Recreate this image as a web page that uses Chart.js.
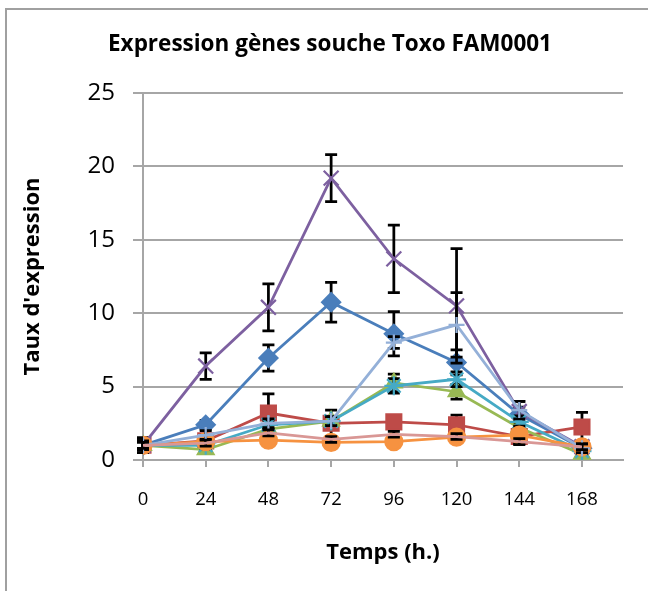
<!DOCTYPE html>
<html lang="fr">
<head>
    <meta charset="UTF-8">
    <title>Expression gènes souche Toxo FAM0001</title>
    <script src="https://cdn.jsdelivr.net/npm/chart.js"></script>
    <style>
        body {
            margin: 0;
            padding: 0;
            background-color: #fff;
        }
        .frame {
            position: absolute;
            left: 5px;
            top: 8px;
            width: 700px;
            height: 650px;
            border-left: 2px solid #a0a0a0;
            border-top: 2px solid #a0a0a0;
        }
        #chart {
            position: absolute;
            left: 0;
            top: 0;
        }
    </style>
</head>
<body>
    <div class="frame"></div>
    <canvas id="chart" width="648" height="591"></canvas>

    <script>
        // temps (h.)
        const hours = [0, 24, 48, 72, 96, 120, 144, 168];
        const yTicks = [0, 5, 10, 15, 20, 25];

        // taux d'expression + barres d'erreur, une paire par gène
        const serie1 = [1.0, 2.4, 6.95, 10.75, 8.6, 6.65, 3.1, 0.8];
        const serie1Err = [0.3, 0.3, 0.9, 1.35, 1.5, 0.85, 0.5, 0.3];
        const serie2 = [1.0, 1.3, 3.2, 2.5, 2.6, 2.4, 1.6, 2.25];
        const serie2Err = [0.5, 0.3, 1.3, 0.9, 0.4, 0.65, 0.3, 1.0];
        const serie3 = [1.0, 0.7, 2.1, 2.65, 5.25, 4.65, 2.2, 0.4];
        const serie3Err = [0.3, 0.2, 0.3, 0.3, 0.6, 0.5, 0.3, 0.2];
        const serie4 = [1.0, 6.4, 10.4, 19.2, 13.7, 10.5, 3.3, 0.9];
        const serie4Err = [0.5, 0.9, 1.6, 1.6, 2.3, 3.9, 0.7, 0.3];
        const serie5 = [1.0, 1.0, 2.4, 2.65, 5.05, 5.5, 2.6, 0.6];
        const serie5Err = [0.3, 0.3, 0.3, 0.3, 0.5, 0.5, 0.4, 0.2];
        const serie6 = [1.0, 1.25, 1.35, 1.2, 1.25, 1.55, 1.7, 0.9];
        const serie6Err = [0.3, 0.2, 0.2, 0.2, 0.2, 0.2, 0.6, 0.3];
        const serie7 = [1.0, 1.7, 2.5, 2.65, 8.0, 9.2, 3.4, 0.8];
        const serie7Err = [0.3, 0.3, 0.3, 0.3, 0.4, 2.2, 0.6, 0.3];
        const serie8 = [1.0, 1.15, 1.85, 1.4, 1.75, 1.6, 1.25, 0.9];
        const serie8Err = [0.2, 0.2, 0.2, 0.2, 0.2, 0.2, 0.2, 0.2];

        const FONT = "'Open Sans', 'DejaVu Sans', sans-serif";

        function makeSeries(label, values, errors, color, style, radius, i) {
            return {
                label: label,
                data: values.map((v, j) => ({ x: hours[j], y: v })),
                err: errors,
                borderColor: color,
                backgroundColor: color,
                borderWidth: 2.75,
                pointStyle: style,
                pointRadius: radius,
                pointBorderWidth: 2.25,
                pointBackgroundColor: color,
                pointBorderColor: color,
                tension: 0,
                order: -i
            };
        }

        const datasets = [
            makeSeries('Série 1', serie1, serie1Err, '#4A7EBB', 'rectRot', 9, 0),
            makeSeries('Série 2', serie2, serie2Err, '#BE4B48', 'rect', 10.5, 1),
            makeSeries('Série 3', serie3, serie3Err, '#98B954', 'triangle', 9, 2),
            makeSeries('Série 4', serie4, serie4Err, '#7D60A0', 'crossRot', 10.5, 3),
            makeSeries('Série 5', serie5, serie5Err, '#46AAC5', 'star', 9.5, 4),
            makeSeries('Série 6', serie6, serie6Err, '#F69240', 'circle', 8.5, 5),
            makeSeries('Série 7', serie7, serie7Err, '#94B0D8', 'cross', 8, 6),
            makeSeries('Série 8', serie8, serie8Err, '#D99795', 'circle', 0, 7)
        ];

        // barres d'erreur noires, dessinées juste avant chaque série
        const errorBars = {
            id: 'errorBars',
            beforeDatasetDraw(chart, args) {
                const ds = chart.data.datasets[args.index];
                if (!ds.err) return;
                const { ctx, scales: { x, y } } = chart;
                ctx.save();
                ctx.strokeStyle = '#000';
                ctx.lineWidth = 2.75;
                ds.data.forEach((pt, j) => {
                    const e = ds.err[j];
                    const px = x.getPixelForValue(pt.x);
                    const top = y.getPixelForValue(pt.y + e);
                    const bot = y.getPixelForValue(pt.y - e);
                    ctx.beginPath();
                    ctx.moveTo(px, top); ctx.lineTo(px, bot);
                    ctx.moveTo(px - 6, top); ctx.lineTo(px + 6, top);
                    ctx.moveTo(px - 6, bot); ctx.lineTo(px + 6, bot);
                    ctx.stroke();
                });
                ctx.restore();
            }
        };

        // titre centré comme dans l'original
        const chartTitle = {
            id: 'chartTitle',
            afterDraw(chart) {
                const ctx = chart.ctx;
                ctx.save();
                ctx.font = "bold 22.5px " + FONT;
                ctx.fillStyle = '#000';
                ctx.textAlign = 'center';
                ctx.textBaseline = 'middle';
                ctx.fillText('Expression gènes souche Toxo FAM0001', 330, 45);
                ctx.restore();
            }
        };

        new Chart(document.getElementById('chart'), {
            type: 'line',
            data: { datasets: datasets },
            options: {
                responsive: false,
                animation: false,
                layout: { padding: { top: 93, left: 10, right: 25, bottom: 0 } },
                plugins: {
                    legend: { display: false },
                    tooltip: { enabled: false },
                    title: { display: false }
                },
                scales: {
                    x: {
                        type: 'linear',
                        min: 0,
                        max: 183.7,
                        afterBuildTicks: axis => { axis.ticks = hours.map(h => ({ value: h })); },
                        afterFit: axis => { axis.height = 131; },
                        grid: {
                            drawOnChartArea: false,
                            color: '#a6a6a6',
                            lineWidth: 2,
                            tickLength: 7
                        },
                        border: { color: '#a6a6a6', width: 2 },
                        ticks: {
                            color: '#000',
                            font: { family: FONT, size: 18.5 },
                            padding: 22,
                            maxRotation: 0
                        },
                        title: {
                            display: true,
                            text: 'Temps (h.)',
                            color: '#000',
                            font: { family: FONT, size: 22, weight: 'bold' },
                            padding: { top: 0, bottom: 25 }
                        }
                    },
                    y: {
                        min: 0,
                        max: 25,
                        afterBuildTicks: axis => { axis.ticks = yTicks.map(v => ({ value: v })); },
                        afterFit: axis => { axis.width = 133; },
                        grid: {
                            color: '#a6a6a6',
                            lineWidth: 2,
                            tickLength: 10
                        },
                        border: { color: '#a6a6a6', width: 2 },
                        ticks: {
                            color: '#000',
                            font: { family: FONT, size: 24 },
                            padding: 18
                        },
                        title: {
                            display: true,
                            text: "Taux d'expression",
                            color: '#000',
                            font: { family: FONT, size: 22, weight: 'bold' },
                            padding: { top: 10, bottom: 0 }
                        }
                    }
                }
            },
            plugins: [errorBars, chartTitle]
        });
    </script>
</body>
</html>
